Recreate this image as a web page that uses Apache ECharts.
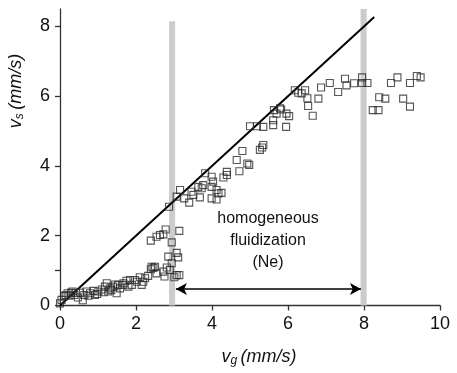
<!DOCTYPE html>
<html>
<head>
<meta charset="utf-8">
<script src="https://cdn.jsdelivr.net/npm/echarts@6/dist/echarts.min.js"></script>
<style>
  html, body { margin: 0; padding: 0; background: #fff; }
  #chart { width: 457px; height: 373px; }
</style>
</head>
<body>
<div id="chart"></div>
<script>
// 低速段 (vg < 2.4)
const lowPts = [
  [0, 0.06], [0.04, 0.16], [0.11, 0.27], [0.15, 0.3], [0.2, 0.35], [0.25, 0.28], [0.29, 0.37],
  [0.33, 0.4], [0.38, 0.3], [0.42, 0.36], [0.47, 0.23], [0.53, 0.37], [0.6, 0.15], [0.64, 0.3],
  [0.7, 0.4], [0.75, 0.28], [0.79, 0.35], [0.88, 0.42], [0.92, 0.3], [0.98, 0.33], [1.01, 0.4],
  [1.1, 0.46], [1.15, 0.38], [1.18, 0.54], [1.23, 0.64], [1.27, 0.4], [1.32, 0.49], [1.35, 0.44],
  [1.4, 0.54], [1.45, 0.6], [1.49, 0.35], [1.53, 0.59], [1.58, 0.49], [1.67, 0.59], [1.67, 0.64],
  [1.75, 0.71], [1.8, 0.54], [1.84, 0.73], [1.89, 0.59], [1.97, 0.73], [2.02, 0.68], [2.1, 0.81],
  [2.15, 0.59], [2.19, 0.68], [2.24, 0.78], [2.32, 0.85]
];
// 过渡段
const transPts = [
  [2.39, 1.04], [2.41, 1.11], [2.46, 1.08], [2.5, 1.11], [2.54, 0.92], [2.72, 0.97], [2.75, 0.83],
  [2.81, 1.09], [2.85, 1.4], [2.89, 1.02], [2.94, 1.21], [3.01, 0.81], [3.07, 0.87], [3.07, 1.51],
  [3.11, 1.38], [3.14, 0.87],
  [2.39, 1.86], [2.54, 1.97], [2.63, 2.02], [2.72, 2.04], [2.78, 2.18], [2.94, 1.81], [3.14, 2.14]
];
// 均匀流化段
const fluidPts = [
  [2.87, 2.83], [3.07, 3.12], [3.16, 3.31], [3.27, 3.07], [3.4, 2.95], [3.46, 3.26], [3.51, 3.17],
  [3.64, 3.4], [3.68, 3.1], [3.73, 3.36], [3.77, 3.45], [3.82, 3.79], [3.99, 3.69], [4.03, 3.55],
  [3.99, 3.4], [4.12, 3.31], [4.17, 3.21], [3.99, 3.07], [4.12, 3.04], [4.25, 3.23], [4.3, 3.67],
  [4.39, 3.83], [4.39, 3.74], [4.65, 4.17], [4.8, 4.43], [4.72, 3.85], [4.93, 4.07], [4.98, 4.03],
  [5.26, 4.46], [5.32, 4.53], [5.35, 4.6], [5.0, 5.14], [5.18, 5.14], [5.35, 5.12], [5.61, 5.31],
  [5.61, 5.17], [5.7, 5.5], [5.82, 5.62], [5.95, 5.12], [5.96, 5.5], [5.79, 5.65], [6.03, 5.43],
  [5.63, 5.6]
];
// 高速段
const highPts = [
  [6.18, 6.17], [6.27, 6.1], [6.36, 6.08], [6.45, 6.17], [6.51, 5.94], [6.53, 5.72], [6.65, 5.44],
  [6.8, 5.93], [6.87, 6.25], [7.1, 6.38], [7.32, 6.12], [7.5, 6.5], [7.54, 6.31], [7.74, 6.37],
  [7.95, 6.54], [7.95, 6.38], [8.09, 6.38], [8.23, 5.6], [8.38, 5.6], [8.4, 5.97], [8.56, 5.93],
  [8.71, 6.38], [8.88, 6.54], [9.03, 5.93], [9.21, 6.38], [9.21, 5.7], [9.39, 6.58], [9.49, 6.54]
];

const refLine = [[0, 0], [8.27, 8.27]];              // vs = vg
const bands = [[2.87, 3.03, 8.15], [7.91, 8.07, 8.5]]; // [x1, x2, top]
const arrowY = 0.47;
const arrowX = [3.05, 7.92];
const xTicks = [0, 2, 4, 6, 8, 10];
const yLabels = [0, 2, 4, 6, 8];
const yTicks = [0, 1, 2, 4, 6, 8];

const font = '"Liberation Sans", Arial, sans-serif';
const axisColor = '#333';

let myChart = echarts.init(document.getElementById('chart'));
let option = {
  animation: false,
  grid: {
    left: 60,
    right: 17,
    top: 9,
    bottom: 67.5,
    outerBoundsMode: 'none'
  },
  xAxis: {
    type: 'value',
    min: 0,
    max: 10,
    interval: 2,
    axisLine: { show: true, onZero: false, lineStyle: { color: axisColor, width: 1.3 } },
    axisTick: { show: true, length: 5, customValues: xTicks, lineStyle: { color: axisColor, width: 1.3 } },
    axisLabel: { customValues: xTicks, color: '#111', fontSize: 18, fontFamily: font, margin: 10 },
    splitLine: { show: false }
  },
  yAxis: {
    type: 'value',
    min: 0,
    max: 8.5,
    interval: 2,
    axisLine: { show: true, onZero: false, lineStyle: { color: axisColor, width: 1.3 } },
    axisTick: { show: true, length: 5, customValues: yTicks, lineStyle: { color: axisColor, width: 1.3 } },
    axisLabel: { customValues: yLabels, color: '#111', fontSize: 18, fontFamily: font, margin: 10 },
    splitLine: { show: false }
  },
  series: [
    {
      // 灰色竖条
      type: 'line',
      data: [],
      z: 1,
      silent: true,
      markArea: {
        silent: true,
        itemStyle: { color: '#cccccc' },
        data: bands.map(b => [{ xAxis: b[0], yAxis: 0 }, { xAxis: b[1], yAxis: b[2] }])
      }
    },
    {
      type: 'line',
      data: refLine,
      z: 2,
      symbol: 'none',
      silent: true,
      lineStyle: { color: '#000', width: 2 },
      markLine: {
        silent: true,
        symbol: ['arrow', 'arrow'],
        symbolSize: [9, 11],
        label: { show: false },
        lineStyle: { color: '#000', width: 1.5, type: 'solid' },
        data: [[{ coord: [arrowX[0], arrowY] }, { coord: [arrowX[1], arrowY] }]]
      }
    },
    {
      type: 'scatter',
      z: 3,
      data: lowPts.concat(transPts, fluidPts, highPts),
      symbol: 'rect',
      symbolSize: 7,
      silent: true,
      itemStyle: { color: 'rgba(255,255,255,0)', borderColor: '#2a2a2a', borderWidth: 1.1 }
    }
  ],
  graphic: [
    {
      type: 'text',
      x: 268,
      y: 241,
      style: {
        text: 'homogeneous\nfluidization\n(Ne)',
        font: '16px ' + font,
        fill: '#111',
        align: 'center',
        verticalAlign: 'middle',
        lineHeight: 22
      }
    },
    {
      type: 'text',
      x: 259,
      y: 357,
      style: {
        text: '{v|v}{s|g} {t|(mm/s)}',
        align: 'center',
        verticalAlign: 'middle',
        rich: {
          v: { font: 'italic 18px ' + font, fill: '#111' },
          s: { font: 'italic 12px ' + font, fill: '#111', padding: [8, 0, 0, 0] },
          t: { font: 'italic 18px ' + font, fill: '#111' }
        }
      }
    },
    {
      type: 'text',
      x: 16,
      y: 91,
      rotation: Math.PI / 2,
      style: {
        text: '{v|v}{s|s} {t|(mm/s)}',
        align: 'center',
        verticalAlign: 'middle',
        rich: {
          v: { font: 'italic 18px ' + font, fill: '#111' },
          s: { font: 'italic 12px ' + font, fill: '#111', padding: [8, 0, 0, 0] },
          t: { font: 'italic 18px ' + font, fill: '#111' }
        }
      }
    }
  ]
};
myChart.setOption(option);
</script>
</body>
</html>
